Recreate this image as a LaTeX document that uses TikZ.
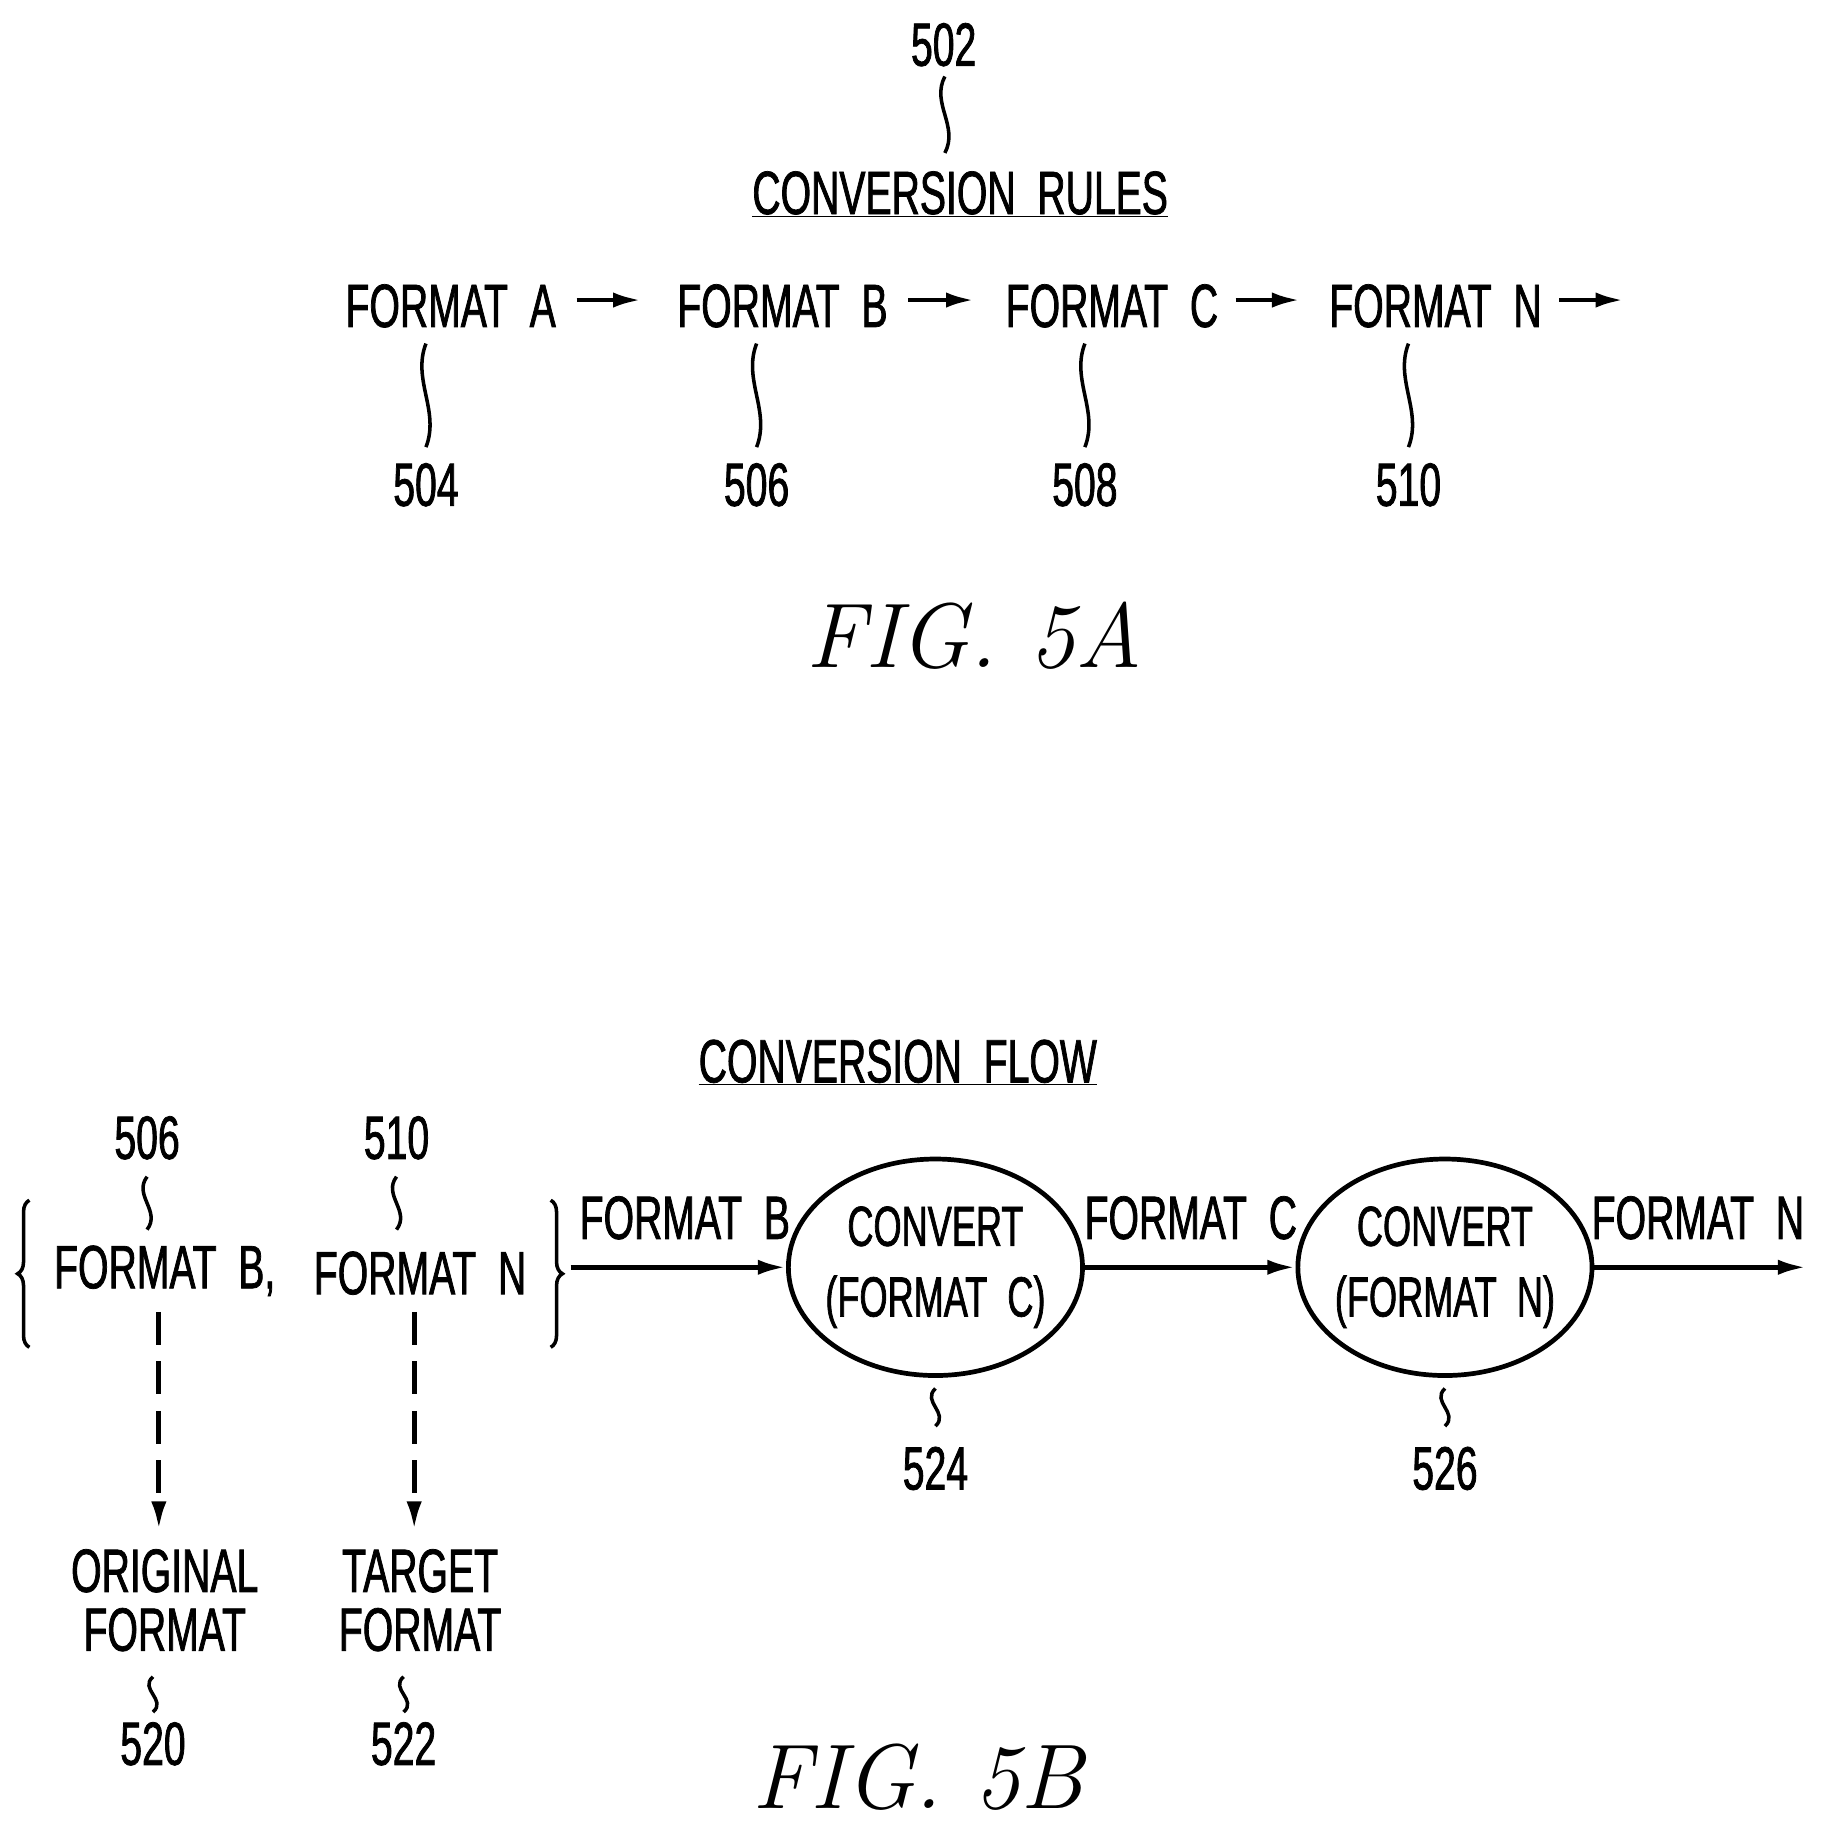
\documentclass[tikz,border=0pt]{standalone}
\usepackage{fontspec}
\setmainfont{Liberation Sans}[FakeStretch=0.64,FakeBold=1.2]
\newfontfamily\figfont{Latin Modern Roman}
\usetikzlibrary{arrows.meta,shapes.geometric,decorations.pathreplacing}
\begin{document}
\begin{tikzpicture}[x=1pt,y=-1pt,line width=4pt,
  lbl/.style={font=\fontsize{52}{56}\selectfont,inner sep=2pt},
  fig/.style={font=\figfont\itshape\fontsize{78}{80}\selectfont},
  arr/.style={-{Latex[length=24pt,width=13pt]}},
  ell/.style={ellipse,draw,inner sep=-8pt,minimum width=250pt,minimum height=184pt,align=center,font=\fontsize{48}{60}\selectfont}]
\useasboundingbox (0,0) rectangle (1550,1568);
\newcommand{\sq}[3]{\draw[line width=3pt] (#1,#2) .. controls (#1-12,#2+0.35*#3-0.35*#2) and (#1+12,#2+0.65*#3-0.65*#2) .. (#1,#3);}
% FIG 5A
\node[lbl] (n502) at (802,38) {502};
\sq{803}{65}{130}
\node[lbl] (rules) at (816,165) {\underline{CONVERSION\ \ RULES}};
\node[lbl] (fa) at (383,260) {FORMAT\ \ A};
\node[lbl] (fb) at (665,260) {FORMAT\ \ B};
\node[lbl] (fc) at (945,260) {FORMAT\ \ C};
\node[lbl] (fn) at (1220,260) {FORMAT\ \ N};
\coordinate (a1) at (490,255); \coordinate (a2) at (545,255);
\coordinate (b1) at (772,255); \coordinate (b2) at (828,255);
\coordinate (c1) at (1050,255); \coordinate (c2) at (1105,255);
\coordinate (d1) at (1325,255); \coordinate (d2) at (1380,255);
\draw[arr] (a1)--(a2); \draw[arr] (b1)--(b2); \draw[arr] (c1)--(c2); \draw[arr] (d1)--(d2);
\sq{362}{292}{380}\sq{643}{292}{380}\sq{922}{292}{380}\sq{1197}{292}{380}
\node[lbl] (n504) at (362,412) {504};
\node[lbl] (n506) at (643,412) {506};
\node[lbl] (n508) at (922,412) {508};
\node[lbl] (n510) at (1197,412) {510};
\node[fig] (f5a) at (828,540) {FIG. 5A};
% FIG 5B
\node[lbl] (flow) at (763,903) {\underline{CONVERSION\ \ FLOW}};
\node[lbl] (m506) at (125,967) {506};
\node[lbl] (m510) at (337,967) {510};
\sq{125}{1000}{1045}\sq{337}{1000}{1045}
\draw[line width=3pt,decorate,decoration={brace,amplitude=10pt}] (25,1145)--(25,1020);
\draw[line width=3pt,decorate,decoration={brace,amplitude=10pt}] (468,1020)--(468,1145);
\node[lbl] (gb) at (140,1080) {FORMAT\ \ B,};
\node[lbl] (gn) at (357,1082) {FORMAT\ \ N};
\node[lbl,align=center] (orig) at (140,1360) {ORIGINAL\\[-6pt]FORMAT};
\node[lbl,align=center] (targ) at (357,1360) {TARGET\\[-6pt]FORMAT};
\coordinate (o1) at (135,1115); \coordinate (o2) at (135,1300);
\coordinate (p1) at (352,1115); \coordinate (p2) at (352,1300);
\draw[arr,dash pattern=on 28pt off 14pt] (o1) -- (o2);
\draw[arr,dash pattern=on 28pt off 14pt] (p1) -- (p2);
\sq{130}{1425}{1455}\sq{343}{1425}{1455}
\node[lbl] (m520) at (130,1482) {520};
\node[lbl] (m522) at (343,1482) {522};
\node[ell] (e1) at (795,1077) {CONVERT\\(FORMAT\ \ C)};
\node[ell] (e2) at (1228,1077) {CONVERT\\(FORMAT\ \ N)};
\coordinate (s0) at (485,1077); \coordinate (t0) at (1535,1077);
\draw[arr] (s0)--(e1.west); \draw[arr] (e1.east)--(e2.west); \draw[arr] (e2.east)--(t0);
\node[lbl] at (582,1035) {FORMAT\ \ B};
\node[lbl] at (1012,1035) {FORMAT\ \ C};
\node[lbl] at (1443,1035) {FORMAT\ \ N};
\sq{795}{1180}{1212}\sq{1228}{1180}{1212}
\node[lbl] (m524) at (795,1248) {524};
\node[lbl] (m526) at (1228,1248) {526};
\node[fig] (f5b) at (780,1510) {FIG. 5B};
\end{tikzpicture}
\end{document}
